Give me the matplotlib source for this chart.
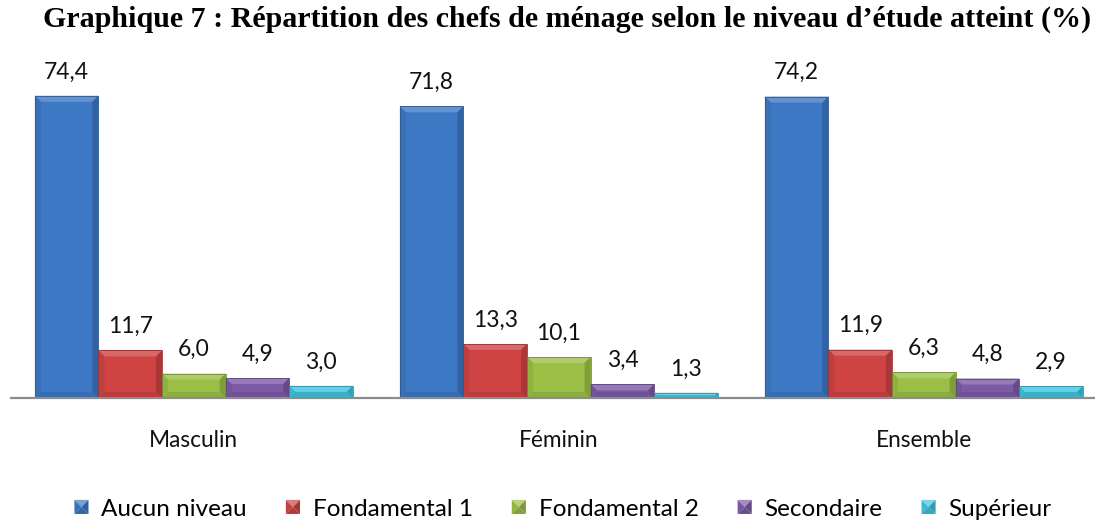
import matplotlib
matplotlib.use("Agg")
import matplotlib.pyplot as plt
import matplotlib.colors as mc
from matplotlib.patches import Polygon, Rectangle
from matplotlib.legend_handler import HandlerBase
import numpy as np

categories = ["Masculin", "Féminin", "Ensemble"]
series_names = ["Aucun niveau", "Fondamental 1", "Fondamental 2", "Secondaire", "Supérieur"]
aucun = [74.4, 71.8, 74.2]
fond1 = [11.7, 13.3, 11.9]
fond2 = [6.0, 10.1, 6.3]
secondaire = [4.9, 3.4, 4.8]
superieur = [3.0, 1.3, 2.9]
series_values = [aucun, fond1, fond2, secondaire, superieur]
colors = ["#3D78C4", "#CF4343", "#9BBF45", "#7D5AA6", "#3FC3DE"]
title = "Graphique 7 : Répartition des chefs de ménage selon le niveau d’étude atteint (%)"

W, H = 1095, 523
fig = plt.figure(figsize=(W / 100, H / 100), dpi=100)
ax_l, ax_b, ax_w, ax_h = 11, 125, 1084, 325
ax = fig.add_axes([ax_l / W, ax_b / H, ax_w / W, ax_h / H])
xmin, xmax = -0.501, 2.469
ax.set_xlim(xmin, xmax)
ax.set_ylim(0, 80)

def shade(c, f):
    r, g, b = mc.to_rgb(c)
    if f >= 1:
        return (r + (1 - r) * (f - 1), g + (1 - g) * (f - 1), b + (1 - b) * (f - 1))
    return (r * f, g * f, b * f)

sx = ax_w / (xmax - xmin)
sy = ax_h / 80.0
bw = 0.1742
x = np.arange(len(categories))
n = len(series_values)
bevel_px = 6

for i, (vals, col) in enumerate(zip(series_values, colors)):
    offs = (i - (n - 1) / 2) * bw
    bars = ax.bar(x + offs, vals, width=bw, color=col, edgecolor="none", zorder=2)
    for rect, v in zip(bars, vals):
        x0, y0 = rect.get_x(), rect.get_y()
        x1, y1 = x0 + rect.get_width(), y0 + rect.get_height()
        hp = rect.get_height() * sy
        b = min(bevel_px, hp / 2.0)
        bx, by = b / sx, b / sy
        polys = [
            ([(x0, y1), (x1, y1), (x1 - bx, y1 - by), (x0 + bx, y1 - by)], shade(col, 1.2)),
            ([(x0, y0), (x0, y1), (x0 + bx, y1 - by), (x0 + bx, y0 + by)], shade(col, 0.93)),
            ([(x1, y0), (x1, y1), (x1 - bx, y1 - by), (x1 - bx, y0 + by)], shade(col, 0.82)),
            ([(x0, y0), (x1, y0), (x1 - bx, y0 + by), (x0 + bx, y0 + by)], shade(col, 0.9)),
        ]
        for pts, c in polys:
            ax.add_patch(Polygon(pts, closed=True, facecolor=c, edgecolor="none", zorder=3))
        ax.add_patch(Rectangle((x0, y0), x1 - x0, y1 - y0, fill=False,
                               edgecolor=shade(col, 0.75), lw=0.6, zorder=4))
        ax.annotate(f"{v:.1f}".replace(".", ","), (rect.get_x() + rect.get_width() / 2, v),
                    xytext=(0, 12.5), textcoords="offset points", ha="center", va="baseline",
                    fontsize=16.5, family="Lato", color="#111111")

for s in ["top", "right", "left"]:
    ax.spines[s].set_visible(False)
ax.spines["bottom"].set_color("#8c8c8c")
ax.spines["bottom"].set_linewidth(1.6)
ax.spines["bottom"].set_zorder(5)
ax.set_yticks([])
ax.set_xticks(x)
ax.set_xticklabels(categories, fontsize=16.3, family="Lato", color="#111111")
ax.tick_params(axis="x", length=0, pad=23)

fig.text(0.518, 1 - 19 / H, title, ha="center", va="center", fontsize=21.6,
         family="Liberation Serif", fontweight="bold")

class BevelHandler(HandlerBase):
    def create_artists(self, legend, orig_handle, xdescent, ydescent, width, height, fontsize, trans):
        col = orig_handle.get_facecolor()
        s = min(width, height) * 1.0
        cx = -xdescent + width / 2
        cy = -ydescent + height / 2
        x0, x1, y0, y1 = cx - s / 2, cx + s / 2, cy - s / 2, cy + s / 2
        c = (cx, cy)
        arts = [
            Polygon([(x0, y1), (x1, y1), c], facecolor=shade(col, 1.3), edgecolor="none", transform=trans),
            Polygon([(x0, y0), (x0, y1), c], facecolor=shade(col, 0.95), edgecolor="none", transform=trans),
            Polygon([(x1, y0), (x1, y1), c], facecolor=shade(col, 0.8), edgecolor="none", transform=trans),
            Polygon([(x0, y0), (x1, y0), c], facecolor=shade(col, 0.85), edgecolor="none", transform=trans),
        ]
        return arts

handles = [Rectangle((0, 0), 1, 1, facecolor=c) for c in colors]
fig.legend(handles, series_names, loc="center", bbox_to_anchor=(563 / W, 1 - 509 / H),
           ncol=5, frameon=False, handler_map={Rectangle: BevelHandler()},
           prop={"family": "Lato", "size": 17.5}, handlelength=0.58, handleheight=0.58,
           handletextpad=0.53, columnspacing=1.6, borderpad=0.0)

fig.savefig("out.png", dpi=100)
